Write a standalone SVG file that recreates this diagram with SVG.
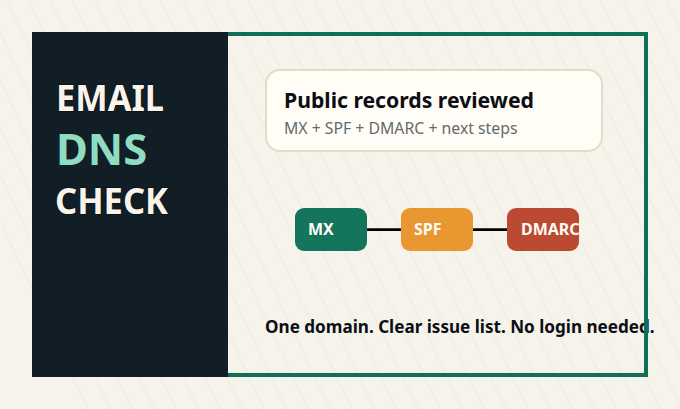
<svg xmlns="http://www.w3.org/2000/svg" width="680" height="409" viewBox="0 0 680 409">
<style>
text{font-family:"Noto Sans","Open Sans","DejaVu Sans",sans-serif}
.t{font-weight:700;font-size:35px;paint-order:stroke;stroke:#0b1218;stroke-width:1.500px}
.n{font-weight:700;font-size:16px;fill:#fffdf5}
</style>
<defs>
<pattern id="h" width="22" height="47.080" patternUnits="userSpaceOnUse" patternTransform="translate(6.700 0)">
<path d="M-22 -47.080L44 94.160" stroke="#ece9de" stroke-width="1" fill="none"/>
</pattern>
<clipPath id="hc"><polygon points="0,0 680,0 680,409 85,409 0,227"/></clipPath>
<clipPath id="c"><rect x="507" y="208" width="72" height="43" rx="9"/></clipPath>
</defs>
<rect width="680" height="409" fill="#f6f3eb"/>
<rect width="680" height="409" fill="url(#h)" clip-path="url(#hc)"/>
<text id="tagline" x="265" y="333" font-size="17.100" font-weight="700" fill="#0b0f14">One domain. Clear issue list. No login needed.</text>
<rect id="frame" x="226" y="34" width="420" height="341" fill="none" stroke="#0f6f57" stroke-width="4"/>
<g id="sidebar">
<rect x="32" y="32" width="196" height="345" fill="#121e26"/>
<text class="t" x="56" y="111" fill="#f8f4ea" textLength="108" lengthAdjust="spacingAndGlyphs">EMAIL</text>
<text class="t" x="56" y="165" fill="#8fdcc3" style="font-size:43.500px;stroke:none">DNS</text>
<text class="t" x="55" y="214" fill="#f8f4ea" textLength="113" lengthAdjust="spacingAndGlyphs">CHECK</text>
</g>
<g id="card">
<rect x="266" y="70" width="336" height="81" rx="14" fill="#fffdf5" stroke="#e0dcc6" stroke-width="2"/>
<text x="284" y="108" font-size="21.200" font-weight="700" fill="#0b0f14">Public records reviewed</text>
<text x="284" y="134" font-size="15.800" fill="#5f6b70">MX + SPF + DMARC + next steps</text>
</g>
<g id="connectors" stroke="#000" stroke-width="2.700" fill="none">
<path d="M367 229.700H401"/>
<path d="M473 229.700H507"/>
</g>
<g id="node-mx">
<rect x="295" y="208" width="72" height="43" rx="9" fill="#14755c"/>
<text class="n" x="308" y="235">MX</text>
</g>
<g id="node-spf">
<rect x="401" y="208" width="72" height="43" rx="9" fill="#e99831"/>
<text class="n" x="414" y="235">SPF</text>
</g>
<g id="node-dmarc">
<rect x="507" y="208" width="72" height="43" rx="9" fill="#bc4a32"/>
<text class="n" x="521" y="235" clip-path="url(#c)">DMARC</text>
</g>
</svg>
